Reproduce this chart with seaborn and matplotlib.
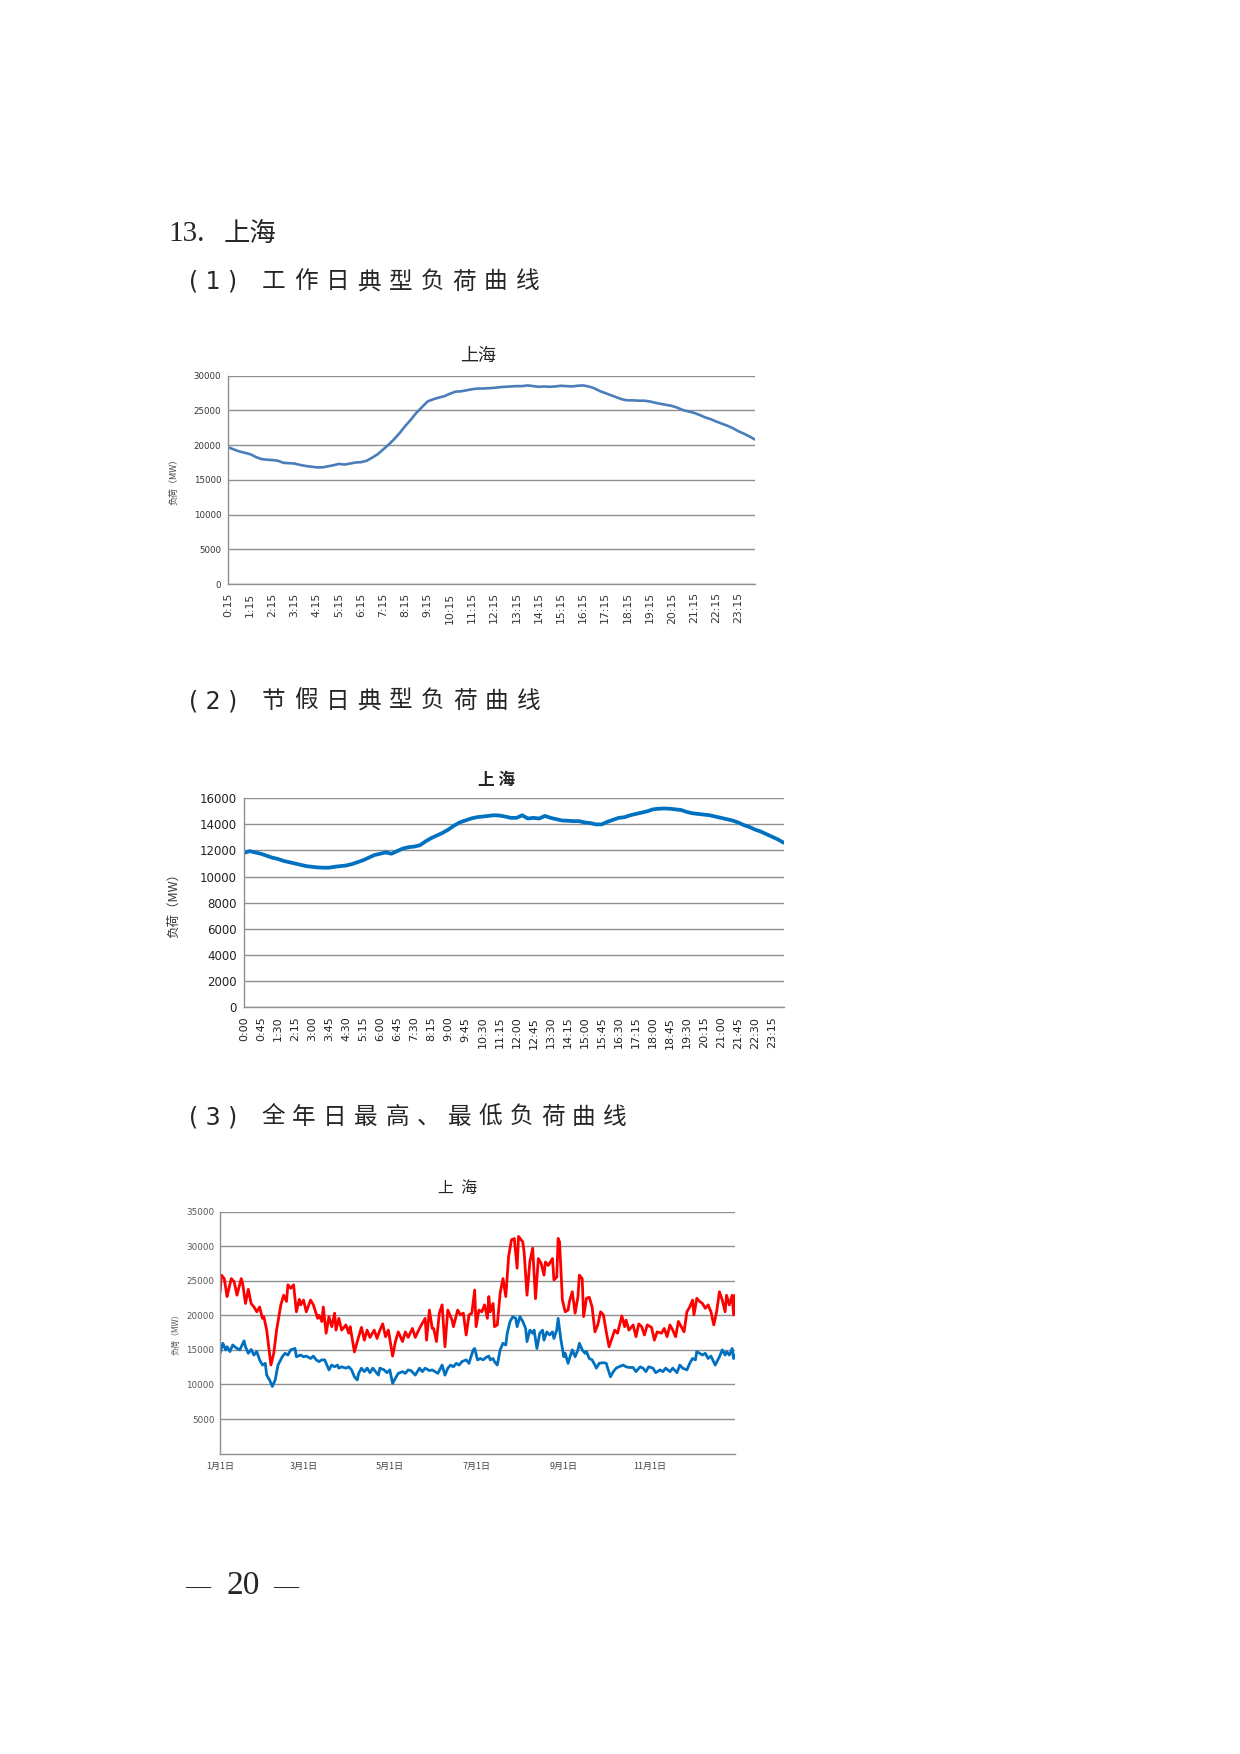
import numpy as np
import matplotlib
matplotlib.use("Agg")
import matplotlib.pyplot as plt
import seaborn as sns

sns.set_style("white")
plt.rcParams['font.family'] = ['DejaVu Sans', 'Noto Sans CJK SC']
CJK = ['Noto Sans CJK SC', 'DejaVu Sans']

W, H = 1240, 1754

# (1) workday typical load, 0:15 .. 24:00 every 15 min
work_times = [f"{t // 60}:{t % 60:02d}" for t in range(15, 1441, 15)]
work_load = [
    19700, 19400, 19100, 18900, 18700, 18300, 18000, 17900, 17850, 17750,
    17450, 17400, 17350, 17150, 17000, 16900, 16800, 16800, 16950, 17100,
    17300, 17200, 17350, 17500, 17550, 17750, 18200, 18700, 19400, 20100,
    20900, 21800, 22800, 23700, 24700, 25500, 26300, 26600, 26850, 27050,
    27400, 27700, 27750, 27900, 28050, 28150, 28150, 28200, 28250, 28350,
    28400, 28450, 28500, 28500, 28600, 28500, 28400, 28450, 28400, 28450,
    28550, 28500, 28450, 28550, 28600, 28450, 28200, 27800, 27500, 27200,
    26900, 26600, 26450, 26450, 26400, 26400, 26300, 26100, 25950, 25800,
    25650, 25400, 25050, 24850, 24650, 24350, 24000, 23750, 23400, 23100,
    22800, 22450, 22000, 21650, 21250, 20800,
]

# (2) holiday typical load, 0:00 .. 23:45 every 15 min
holiday_times = [f"{t // 60}:{t % 60:02d}" for t in range(0, 1440, 15)]
holiday_load = [
    11800, 11950, 11850, 11750, 11600, 11450, 11350, 11200, 11100, 11000,
    10900, 10800, 10750, 10700, 10680, 10680, 10750, 10800, 10850, 10950,
    11100, 11250, 11450, 11650, 11750, 11850, 11750, 11950, 12150, 12250,
    12300, 12400, 12700, 12950, 13150, 13350, 13600, 13900, 14150, 14300,
    14450, 14550, 14600, 14650, 14700, 14680, 14600, 14500, 14500, 14700,
    14450, 14500, 14450, 14650, 14500, 14400, 14300, 14280, 14250, 14250,
    14150, 14100, 14000, 14000, 14200, 14350, 14500, 14550, 14700, 14800,
    14900, 15000, 15150, 15200, 15220, 15200, 15150, 15100, 14950, 14850,
    14800, 14750, 14700, 14600, 14500, 14400, 14300, 14150, 13950, 13800,
    13600, 13450, 13250, 13050, 12850, 12600,
]

# (3) daily max / min load over the year (day of year, MW)
max_days = [
    0, 1, 3, 5, 6, 8, 10, 12, 15, 16, 18, 20, 22, 24, 26, 28, 30, 31, 33, 36,
    38, 40, 43, 45, 47, 48, 50, 52, 54, 56, 57, 59, 61, 64, 66, 69, 70, 72, 73, 75,
    77, 79, 81, 82, 84, 86, 89, 91, 92, 95, 98, 100, 102, 104, 106, 109, 111, 113, 115, 117,
    119, 122, 124, 126, 129, 131, 133, 136, 138, 141, 143, 145, 146, 148, 150, 151, 153, 155, 157, 159,
    161, 164, 165, 168, 170, 172, 174, 176, 178, 180, 181, 183, 185, 187, 189, 190, 191, 193, 194, 196,
    198, 200, 202, 204, 206, 208, 210, 211, 214, 215, 217, 219, 221, 223, 225, 227, 229, 230, 232, 235,
    236, 238, 239, 240, 242, 244, 246, 247, 249, 251, 253, 254, 256, 257, 259, 261, 263, 265, 267, 269,
    271, 273, 275, 277, 279, 281, 283, 284, 286, 287, 289, 292, 294, 296, 298, 300, 302, 305, 307, 309,
    312, 314, 316, 318, 320, 322, 324, 326, 328, 330, 332, 334, 335, 337, 339, 341, 343, 345, 347, 349,
    351, 353, 355, 357, 358, 360, 362, 363, 364,
]
max_load = [
    23200, 25800, 25300, 22700, 23600, 25300, 24850, 22900, 25300, 24600,
    21700, 23750, 21700, 21200, 20500, 21200, 19550, 19800, 17850, 12800,
    14500, 17850, 21500, 22900, 22000, 24400, 23900, 24400, 20500, 22300,
    21500, 22200, 20500, 22200, 21500, 19550, 20000, 19100, 21200, 17400,
    19800, 18350, 20300, 17850, 19550, 17850, 18600, 17400, 18350, 14700,
    16900, 18250, 16400, 17850, 16800, 17850, 16650, 17850, 18750, 16900,
    17850, 14100, 16200, 17600, 16200, 17600, 16800, 18100, 16800, 18100,
    18850, 19550, 16400, 20750, 18100, 18100, 16200, 20300, 21500, 15450,
    20750, 19300, 18350, 20750, 20050, 20300, 17150, 20050, 20300, 23650,
    18350, 20750, 20500, 21500, 19550, 22700, 20500, 21700, 18350, 18600,
    23200, 25300, 22700, 28500, 30900, 31100, 26800, 31400, 30600, 29000,
    22900, 27700, 29700, 22400, 28200, 27500, 25800, 27700, 27200, 28200,
    25100, 25500, 31100, 30600, 22200, 20500, 20750, 22000, 23400, 20300,
    22700, 25800, 25300, 19800, 22450, 22600, 21200, 17600, 18600, 20500,
    20050, 17600, 15450, 16650, 17850, 17400, 19100, 19900, 18350, 19300,
    17850, 18600, 16900, 18750, 18350, 17150, 18600, 18250, 16400, 17600,
    17400, 18100, 16900, 18600, 17850, 16900, 19100, 18350, 17600, 20500,
    21200, 22200, 20050, 22450, 22000, 21700, 21000, 21500, 20500, 18600,
    20500, 23400, 22200, 20500, 22900, 21500, 22900, 20050, 22900,
]
min_days = [
    0, 2, 4, 5, 7, 9, 12, 14, 17, 18, 20, 22, 24, 26, 28, 30, 32, 33, 35, 37,
    39, 41, 44, 46, 48, 50, 53, 54, 57, 59, 61, 64, 66, 68, 70, 72, 74, 77, 79, 81,
    83, 84, 86, 89, 91, 93, 95, 97, 98, 100, 102, 104, 106, 108, 109, 112, 113, 116, 118, 120,
    122, 124, 126, 129, 131, 133, 135, 138, 141, 143, 145, 148, 150, 152, 154, 157, 159, 161, 163, 165,
    167, 169, 171, 174, 176, 177, 179, 180, 182, 184, 186, 188, 190, 191, 193, 194, 196, 198, 200, 202,
    203, 205, 207, 209, 210, 212, 214, 216, 217, 219, 221, 222, 224, 226, 228, 229, 231, 233, 235, 236,
    238, 239, 241, 243, 244, 246, 247, 249, 251, 253, 254, 256, 258, 259, 261, 263, 265, 266, 268, 271,
    273, 274, 276, 278, 280, 282, 285, 287, 289, 292, 294, 297, 299, 301, 303, 306, 308, 311, 313, 315,
    318, 320, 323, 325, 327, 330, 332, 334, 336, 337, 339, 341, 343, 345, 347, 350, 353, 355, 357, 358,
    360, 362, 363, 364,
]
min_load = [
    14500, 15950, 15000, 15450, 14750, 15700, 15200, 15000, 16300, 15450,
    14500, 15050, 14250, 14750, 13550, 12800, 13050, 11350, 10650, 9700,
    10650, 12800, 14000, 14500, 14250, 15000, 15200, 14000, 14250, 14000,
    14100, 13750, 14100, 13550, 13300, 13550, 13550, 12100, 12800, 12550,
    12800, 12350, 12550, 12350, 12550, 12100, 11100, 10650, 11600, 12350,
    11850, 12350, 11700, 12350, 12100, 11350, 12350, 12100, 11700, 12100,
    10150, 10900, 11600, 11850, 11600, 12100, 12000, 11350, 12350, 11850,
    12350, 12000, 12100, 11850, 11600, 12800, 11350, 12350, 12800, 12550,
    13050, 12800, 13300, 13550, 13050, 13750, 15000, 15200, 13550, 13750,
    13550, 13900, 14100, 13550, 13750, 13300, 12800, 15000, 15950, 15700,
    17400, 19100, 19800, 19550, 18350, 19800, 19100, 18100, 16200, 17850,
    17400, 17850, 15200, 17400, 17850, 16400, 17600, 17150, 17600, 16650,
    17850, 19550, 16400, 14000, 14500, 13050, 13750, 15000, 14000, 15000,
    15950, 15000, 14500, 14750, 13750, 13550, 12800, 12350, 13050, 13150,
    13050, 12350, 11100, 11850, 12350, 12550, 12800, 12550, 12450, 12450,
    11850, 12550, 12350, 11850, 12550, 12350, 11700, 12100, 11850, 12350,
    11850, 12350, 11700, 12800, 12350, 12100, 13050, 13750, 13550, 14750,
    14500, 14250, 14500, 13750, 14100, 12800, 14000, 15000, 14250, 14750,
    14250, 15200, 13750, 14250,
]
month_ticks = [0, 59, 120, 181, 243, 304, 364]
month_labels = ["1月1日", "3月1日", "5月1日", "7月1日", "9月1日", "11月1日", ""]

GRID = '#8f8f8f'


def make_axes(fig, left, top, right, bottom):
    """Axes placed by pixel edges of the page."""
    ax = fig.add_axes([left / W, 1 - bottom / H, (right - left) / W, (bottom - top) / H])
    ax.grid(axis='y', color=GRID, lw=1.0)
    ax.grid(axis='x', visible=False)
    ax.set_axisbelow(True)
    for s in ['top', 'right']:
        ax.spines[s].set_visible(False)
    for s in ['left', 'bottom']:
        ax.spines[s].set_color(GRID)
        ax.spines[s].set_linewidth(1.0)
    ax.tick_params(axis='both', color=GRID, width=0.8, direction='out')
    return ax


def spaced_heading(fig, prefix, text, x_prefix, x_text, y, pitch):
    fig.text(x_prefix / W, 1 - y / H, prefix, fontsize=17, family='DejaVu Sans',
             va='center', ha='left')
    for k, ch in enumerate(text):
        fig.text((x_text + k * pitch) / W, 1 - y / H, ch, fontsize=17, family=CJK,
                 va='center', ha='left')


fig = plt.figure(figsize=(W / 100, H / 100), dpi=100)
fig.patch.set_facecolor('white')

# headings
fig.text(168 / W, 1 - 234 / H, "13.", fontsize=21, family='Liberation Serif',
         va='center', ha='left')
fig.text(224 / W, 1 - 233 / H, "上海", fontsize=19, family=CJK, va='center', ha='left')
spaced_heading(fig, "( 1 )", "工作日典型负荷曲线", 189, 262, 282, 31.7)
spaced_heading(fig, "( 2 )", "节假日典型负荷曲线", 189, 262, 701, 31.8)
spaced_heading(fig, "( 3 )", "全年日最高、最低负荷曲线", 189, 261, 1117, 31.1)

# chart 1
ax1 = make_axes(fig, 228, 375.7, 755, 584)
sns.lineplot(x=np.arange(len(work_load)), y=work_load, ax=ax1, color='#4A7EBB', lw=1.9)
ax1.set_xlim(0, len(work_load) - 1)
ax1.set_ylim(0, 30000)
ax1.set_yticks(range(0, 30001, 5000))
ax1.set_yticklabels([str(v) for v in range(0, 30001, 5000)], fontsize=6.2, color='#333333')
ax1.set_xticks(np.arange(len(work_times)))
ax1.set_xticklabels([t if i % 4 == 0 else '' for i, t in enumerate(work_times)],
                    rotation=90, fontsize=7.8, color='#333333')
ax1.tick_params(axis='x', length=3, pad=3)
ax1.tick_params(axis='y', length=3, pad=2)
ax1.set_ylabel("负荷（MW）", fontsize=6.5, family=CJK, color='#444444')
ax1.yaxis.set_label_coords(-0.095, 0.5)
fig.text(478 / W, 1 - 356 / H, "上海", fontsize=13, family=CJK, ha='center', va='center')

# chart 2
ax2 = make_axes(fig, 243.8, 798.3, 783.5, 1007)
sns.lineplot(x=np.arange(len(holiday_load)), y=holiday_load, ax=ax2, color='#0070C0', lw=2.7)
ax2.set_xlim(0, len(holiday_load) - 1)
ax2.set_ylim(0, 16000)
ax2.set_yticks(range(0, 16001, 2000))
ax2.set_yticklabels([str(v) for v in range(0, 16001, 2000)], fontsize=8.5, color='#222222')
ax2.set_xticks(np.arange(len(holiday_times)))
ax2.set_xticklabels([t if i % 3 == 0 else '' for i, t in enumerate(holiday_times)],
                    rotation=90, fontsize=8, color='#222222')
ax2.tick_params(axis='x', length=4, pad=3)
ax2.tick_params(axis='y', length=3, pad=2)
ax2.set_ylabel("负荷（MW）", fontsize=9, family=CJK, color='#333333')
ax2.yaxis.set_label_coords(-0.118, 0.5)
fig.text(496 / W, 1 - 780 / H, "上 海", fontsize=12, family=CJK, weight='bold',
         ha='center', va='center')

# chart 3
ax3 = make_axes(fig, 220, 1211.5, 735, 1453.6)
sns.lineplot(x=max_days, y=max_load, ax=ax3, color='#FF0000', lw=2.0)
sns.lineplot(x=min_days, y=min_load, ax=ax3, color='#0070C0', lw=2.0)
ax3.set_xlim(0, 364)
ax3.set_ylim(0, 35000)
ax3.set_yticks(range(5000, 35001, 5000))
ax3.set_yticklabels([str(v) for v in range(5000, 35001, 5000)], fontsize=6.3, color='#555555')
ax3.set_xticks(month_ticks)
ax3.set_xticklabels(month_labels, fontsize=6.5, family=CJK, color='#444444')
ax3.tick_params(axis='x', length=4, pad=2)
ax3.tick_params(axis='y', length=0, pad=4)
ax3.set_ylabel("负荷（MW）", fontsize=5.8, family=CJK, color='#555555')
ax3.yaxis.set_label_coords(-0.076, 0.5)
fig.text(458 / W, 1 - 1188 / H, "上  海", fontsize=11.5, family=CJK, ha='center', va='center')

# page number
fig.text(185 / W, 1 - 1586 / H, "—", fontsize=18, family='Liberation Serif', va='center', ha='left')
fig.text(227 / W, 1 - 1586 / H, "20", fontsize=24, family='Liberation Serif', va='center', ha='left')
fig.text(273 / W, 1 - 1586 / H, "—", fontsize=18, family='Liberation Serif', va='center', ha='left')

fig.savefig("out.png", dpi=100, facecolor='white')
